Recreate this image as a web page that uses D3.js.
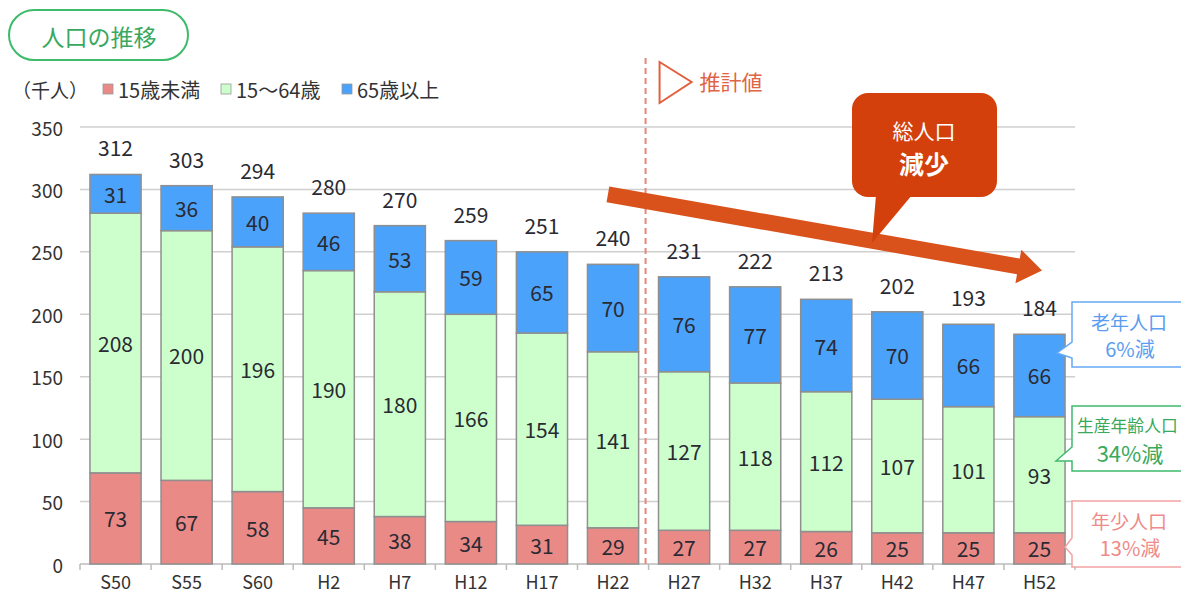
<!DOCTYPE html>
<html>
<head>
<meta charset="utf-8">
<script src="https://cdn.jsdelivr.net/npm/d3@7"></script>
<style>
  body { margin: 0; background: #fff; }
  svg { display: block; font-family: "Noto Sans CJK JP", "Noto Sans", sans-serif; }
</style>
</head>
<body>
<svg id="chart"></svg>
<script>
var years = ["S50", "S55", "S60", "H2", "H7", "H12", "H17", "H22", "H27", "H32", "H37", "H42", "H47", "H52"];
var young = [73, 67, 58, 45, 38, 34, 31, 29, 27, 27, 26, 25, 25, 25];
var working = [208, 200, 196, 190, 180, 166, 154, 141, 127, 118, 112, 107, 101, 93];
var elderly = [31, 36, 40, 46, 53, 59, 65, 70, 76, 77, 74, 70, 66, 66];
var totals = [312, 303, 294, 280, 270, 259, 251, 240, 231, 222, 213, 202, 193, 184];
var seriesNames = ["15歳未満", "15～64歳", "65歳以上"];
var yTicks = [0, 50, 100, 150, 200, 250, 300, 350];

var width = 1181,
  height = 594;

var colors = ["#e98a87", "#ccffcc", "#4ba2fa"];

var svg = d3.select("#chart")
  .attr("width", width)
  .attr("height", height);

var x = d3.scaleBand()
  .domain(years)
  .range([80, 1075])
  .paddingInner(0.28)
  .paddingOuter(0.14);

var y = d3.scaleLinear()
  .domain([0, 350])
  .range([564, 127]);

var step = x.step(), bw = x.bandwidth();

// title pill
svg.append("rect")
  .attr("x", 9).attr("y", 10)
  .attr("width", 179).attr("height", 50)
  .attr("rx", 25)
  .attr("fill", "#fff")
  .attr("stroke", "#3dba6a")
  .attr("stroke-width", 2);
svg.append("text")
  .attr("x", 99).attr("y", 36)
  .attr("text-anchor", "middle")
  .attr("dominant-baseline", "central")
  .attr("font-size", 23)
  .attr("fill", "#3aa85e")
  .text("人口の推移");

// unit + legend
svg.append("text")
  .attr("x", 12).attr("y", 89)
  .attr("dominant-baseline", "central")
  .attr("font-size", 19)
  .attr("fill", "#333")
  .text("（千人）");

var legendX = [103, 221, 342];
var legend = svg.append("g").selectAll("g")
  .data(seriesNames)
  .enter().append("g")
  .attr("transform", function (d, i) { return "translate(" + legendX[i] + ",89)"; });
legend.append("rect")
  .attr("x", 0).attr("y", -5)
  .attr("width", 10).attr("height", 10)
  .attr("fill", function (d, i) { return colors[i]; })
  .attr("stroke", "#999")
  .attr("stroke-width", 0.8);
legend.append("text")
  .attr("x", 15)
  .attr("dominant-baseline", "central")
  .attr("font-size", 20)
  .attr("fill", "#333")
  .text(function (d) { return d; });

// gridlines + y labels
svg.append("g").selectAll("line")
  .data(yTicks.slice(1))
  .enter().append("line")
  .attr("x1", 80).attr("x2", 1075)
  .attr("y1", function (d) { return y(d); })
  .attr("y2", function (d) { return y(d); })
  .attr("stroke", "#cfcfcf")
  .attr("stroke-width", 1.5);

svg.append("g").selectAll("text")
  .data(yTicks)
  .enter().append("text")
  .attr("x", 63)
  .attr("y", function (d) { return y(d); })
  .attr("text-anchor", "end")
  .attr("dominant-baseline", "central")
  .attr("font-size", 19)
  .attr("fill", "#333")
  .text(function (d) { return d; });

// x axis
var bounds = d3.range(years.length + 1).map(function (i) { return 80 + i * step; });
svg.append("line")
  .attr("x1", 80).attr("x2", 1075)
  .attr("y1", y(0)).attr("y2", y(0))
  .attr("stroke", "#bbb")
  .attr("stroke-width", 1.5);
svg.append("g").selectAll("line")
  .data(bounds)
  .enter().append("line")
  .attr("x1", function (d) { return d; })
  .attr("x2", function (d) { return d; })
  .attr("y1", y(0)).attr("y2", y(0) + 6)
  .attr("stroke", "#bbb")
  .attr("stroke-width", 1.5);
svg.append("g").selectAll("text")
  .data(years)
  .enter().append("text")
  .attr("x", function (d) { return x(d) + bw / 2; })
  .attr("y", 581)
  .attr("text-anchor", "middle")
  .attr("dominant-baseline", "central")
  .attr("font-size", 18)
  .attr("fill", "#333")
  .text(function (d) { return d; });

// stacked bars
var table = years.map(function (yr, i) {
  return { year: yr, young: young[i], working: working[i], elderly: elderly[i], total: totals[i] };
});
var stack = d3.stack().keys(["young", "working", "elderly"]);
var layers = stack(table);

var layer = svg.append("g").selectAll("g")
  .data(layers)
  .enter().append("g")
  .attr("fill", function (d, i) { return colors[i]; });

layer.selectAll("rect")
  .data(function (d) { return d; })
  .enter().append("rect")
  .attr("x", function (d) { return x(d.data.year); })
  .attr("y", function (d) { return y(d[1]); })
  .attr("width", bw)
  .attr("height", function (d) { return y(d[0]) - y(d[1]); })
  .attr("stroke", "#8f8f8f")
  .attr("stroke-width", 1.5);

layer.selectAll("text")
  .data(function (d) { return d.map(function (p) { return { p: p, key: d.key }; }); })
  .enter().append("text")
  .attr("x", function (d) { return x(d.p.data.year) + bw / 2; })
  .attr("y", function (d) { return (y(d.p[0]) + y(d.p[1])) / 2; })
  .attr("text-anchor", "middle")
  .attr("dominant-baseline", "central")
  .attr("font-size", 21)
  .attr("fill", "#2a2a33")
  .text(function (d) { return d.p.data[d.key]; });

svg.append("g").selectAll("text")
  .data(table)
  .enter().append("text")
  .attr("x", function (d) { return x(d.year) + bw / 2; })
  .attr("y", function (d) { return y(d.young + d.working + d.elderly) - 27; })
  .attr("text-anchor", "middle")
  .attr("dominant-baseline", "central")
  .attr("font-size", 21)
  .attr("fill", "#2a2a33")
  .text(function (d) { return d.total; });

// projection divider
var divX = x("H27") - (step - bw) / 2 - 3;
svg.append("line")
  .attr("x1", divX).attr("x2", divX)
  .attr("y1", 58).attr("y2", y(0) + 4)
  .attr("stroke", "#e98577")
  .attr("stroke-width", 2)
  .attr("stroke-dasharray", "6,4");
svg.append("path")
  .attr("d", "M" + (divX + 14) + ",62 L" + (divX + 46) + ",82 L" + (divX + 14) + ",103 Z")
  .attr("fill", "none")
  .attr("stroke", "#e2603c")
  .attr("stroke-width", 2);
svg.append("text")
  .attr("x", divX + 54).attr("y", 81)
  .attr("dominant-baseline", "central")
  .attr("font-size", 21)
  .attr("fill", "#df6446")
  .text("推計値");

// trend arrow
var a0 = [x("H22") + bw * 0.4, y(296)],
  a1 = [x("H52") + bw * 0.55, y(235)];
var ang = Math.atan2(a1[1] - a0[1], a1[0] - a0[0]);
var ux = Math.cos(ang), uy = Math.sin(ang), nx = -uy, ny = ux;
var hw = 8, headLen = 24, headW = 17;
var hb = [a1[0] - ux * headLen, a1[1] - uy * headLen];
var arrowPts = [
  [a0[0] + nx * hw, a0[1] + ny * hw],
  [hb[0] + nx * hw, hb[1] + ny * hw],
  [hb[0] + nx * headW, hb[1] + ny * headW],
  a1,
  [hb[0] - nx * headW, hb[1] - ny * headW],
  [hb[0] - nx * hw, hb[1] - ny * hw],
  [a0[0] - nx * hw, a0[1] - ny * hw]
];
svg.append("path")
  .attr("d", "M" + arrowPts.map(function (p) { return p.join(","); }).join("L") + "Z")
  .attr("fill", "#d9521c");

// callout
var co = svg.append("g");
co.append("rect")
  .attr("x", 852).attr("y", 93)
  .attr("width", 145).attr("height", 104)
  .attr("rx", 16)
  .attr("fill", "#d3400b");
co.append("path")
  .attr("d", "M876,195 L912,195 L872,243 Z")
  .attr("fill", "#d3400b");
co.append("text")
  .attr("x", 924).attr("y", 130)
  .attr("text-anchor", "middle")
  .attr("dominant-baseline", "central")
  .attr("font-size", 21)
  .attr("fill", "#fff")
  .text("総人口");
co.append("text")
  .attr("x", 924).attr("y", 163)
  .attr("text-anchor", "middle")
  .attr("dominant-baseline", "central")
  .attr("font-size", 25)
  .attr("font-weight", 700)
  .attr("fill", "#fff")
  .text("減少");

// side callouts
var sideNotes = [
  { top: 302, bottom: 367, b1: 342, b2: 358, tipX: 1057, tipY: 353, color: "#66a9f4", text: "#5b9df0", l1: "老年人口", l2: "6%減" },
  { top: 406, bottom: 471, b1: 447, b2: 461, tipX: 1056, tipY: 461, color: "#3fba6c", text: "#39a95c", l1: "生産年齢人口", l2: "34%減" },
  { top: 501, bottom: 567, b1: 538, b2: 555, tipX: 1065, tipY: 547, color: "#f2a3a3", text: "#ef8a8a", l1: "年少人口", l2: "13%減" }
];
var L = 1072, R = 1200;
var notes = svg.append("g").selectAll("g")
  .data(sideNotes)
  .enter().append("g");
notes.append("path")
  .attr("d", function (d) {
    return "M" + L + "," + d.top + " L" + R + "," + d.top + " L" + R + "," + d.bottom +
      " L" + L + "," + d.bottom + " L" + L + "," + d.b2 + " L" + d.tipX + "," + d.tipY +
      " L" + L + "," + d.b1 + " Z";
  })
  .attr("fill", "#fff")
  .attr("stroke", function (d) { return d.color; })
  .attr("stroke-width", 1.5);
notes.append("text")
  .attr("x", function (d, i) { return i === 1 ? 1077 : 1129; })
  .attr("y", function (d) { return d.top + 19; })
  .attr("text-anchor", function (d, i) { return i === 1 ? "start" : "middle"; })
  .attr("dominant-baseline", "central")
  .attr("font-size", function (d, i) { return i === 1 ? 16.8 : 19; })
  .attr("fill", function (d) { return d.text; })
  .text(function (d) { return d.l1; });
notes.append("text")
  .attr("x", 1130)
  .attr("y", function (d) { return d.top + 46; })
  .attr("text-anchor", "middle")
  .attr("dominant-baseline", "central")
  .attr("font-size", function (d, i) { return i === 1 ? 22 : 20; })
  .attr("fill", function (d) { return d.text; })
  .text(function (d) { return d.l2; });
</script>
</body>
</html>
